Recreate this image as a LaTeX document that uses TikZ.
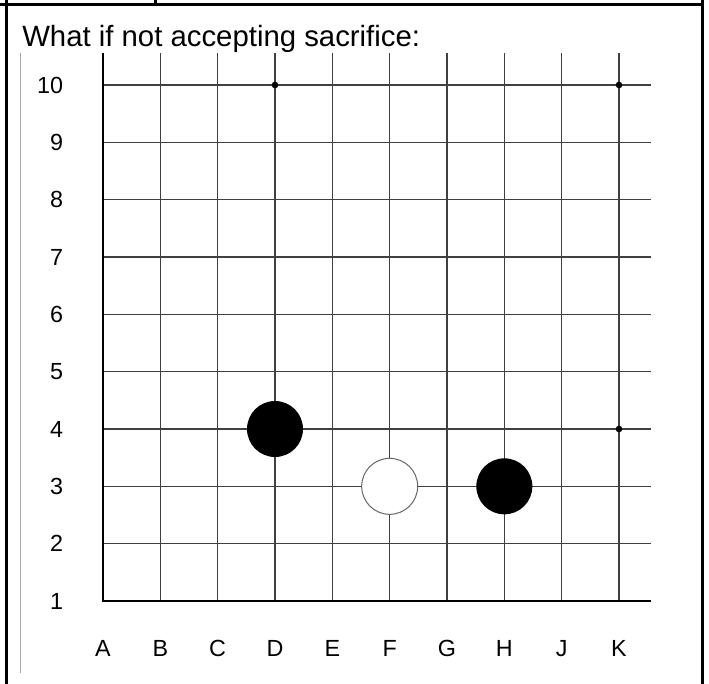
\documentclass[tikz,border=0pt]{standalone}
\usepackage{fontspec}
\setmainfont{Liberation Sans}

\begin{document}
\begin{tikzpicture}[x=0.75pt, y=-0.75pt, every node/.style={font=\fontsize{17.5}{20}\selectfont, inner sep=0pt},
	frame/.style={line width=2.25pt},
	gridline/.style={black!75, line width=0.8pt},
	boardedge/.style={line width=1.9pt},
	stone/.style={circle, minimum size=42pt},
	blackstone/.style={stone, fill=black},
	whitestone/.style={stone, fill=white, draw=black!60, line width=0.75pt},
	hoshi/.style={circle, fill=black, minimum size=5pt}]
	\useasboundingbox (0,0) rectangle (709,684);
	% cell frame
	\draw[frame] (0,4.5) -- (702,4.5);
	\draw[frame] (155,0) -- (155,4.5);
	\draw[frame] (6.5,0) -- (6.5,684);
	\draw[frame] (702,0) -- (702,684);
	\draw[black!35, line width=0.75pt] (20.7,53) -- (20.7,673);
	\node[anchor=base west, font=\fontsize{22}{26}\selectfont] (title) at (22,46.5) {What if not accepting sacrifice:};
	% board, one unit per line
	\begin{scope}[shift={(103,601)}, x=43pt, y=43pt]
		\foreach \i in {1,...,9} \draw[gridline] (\i,0) -- (\i,9.56);
		\foreach \j in {1,...,9} \draw[gridline] (0,\j) -- (9.56,\j);
		\draw[boardedge] (0,9.56) -- (0,0) -- (9.56,0);
		\foreach \n in {1,...,10} \node[anchor=east] (row\n) at (-0.69,\n-1) {\n};
		\foreach \c [count=\k from 0] in {A,B,C,D,E,F,G,H,J,K} \node[anchor=base] (col\c) at (\k,-0.966) {\c};
		\node[hoshi] (hoshiD10) at (3,9) {};
		\node[hoshi] (hoshiK10) at (9,9) {};
		\node[hoshi] (hoshiK4) at (9,3) {};
		\node[blackstone] (d4) at (3,3) {};
		\node[whitestone] (f3) at (5,2) {};
		\node[blackstone] (h3) at (7,2) {};
	\end{scope}
\end{tikzpicture}
\end{document}
